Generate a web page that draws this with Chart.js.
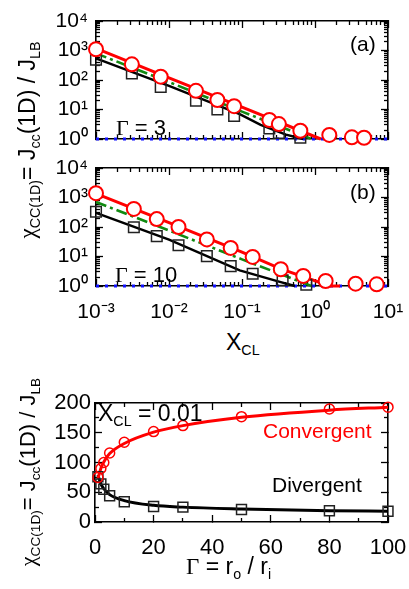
<!DOCTYPE html>
<html>
<head>
<meta charset="utf-8">
<script src="https://cdn.jsdelivr.net/npm/chart.js@4.4.0/dist/chart.umd.min.js"></script>
<style>
  html, body { margin: 0; padding: 0; background: #fff; }
  body { width: 409px; height: 589px; position: relative; overflow: hidden;
         font-family: "Liberation Sans", Arial, sans-serif; }
  .panel { position: absolute; left: 0; }
  .txt { position: absolute; white-space: nowrap; line-height: 1; color: #000; }
  .g { font-family: "Liberation Serif", "Times New Roman", serif; }
  .sub { font-size: 0.62em; position: relative; top: 0.35em; }
  .ytitle { position: absolute; white-space: nowrap; line-height: 1;
            transform: translate(-50%, -50%) rotate(-90deg); }
</style>
</head>
<body>
<canvas id="chartA" class="panel" width="409" height="150" style="top:0"></canvas>
<canvas id="chartB" class="panel" width="409" height="170" style="top:150px"></canvas>
<canvas id="chartC" class="panel" width="409" height="170" style="top:390px"></canvas>

<div class="ytitle" style="left:27px;top:140px;font-size:23px"><span class="g">χ</span><span class="sub">CC(1D)</span>= J<span class="sub">cc</span>(1D) / J<span class="sub">LB</span></div>
<div class="ytitle" style="left:28px;top:472px;font-size:22px"><span class="g">χ</span><span class="sub">CC(1D)</span>= J<span class="sub">cc</span>(1D) / J<span class="sub">LB</span></div>

<div class="txt" style="left:350px;top:33px;font-size:21px">(a)</div>
<div class="txt" style="left:350px;top:181px;font-size:21px">(b)</div>
<div class="txt" style="left:116px;top:117px;font-size:22px"><span class="g">Γ</span> = 3</div>
<div class="txt" style="left:115px;top:264px;font-size:22px"><span class="g">Γ</span> = 10</div>
<div class="txt" style="left:226px;top:331px;font-size:23px">X<span class="sub">CL</span></div>

<div class="txt" style="left:98px;top:402px;font-size:23px">X<span class="sub">CL</span> = 0.01</div>
<div class="txt" style="left:263px;top:420px;font-size:21px;color:#ff0000">Convergent</div>
<div class="txt" style="left:272px;top:474px;font-size:21px">Divergent</div>
<div class="txt" style="left:186px;top:555px;font-size:23px"><span class="g">Γ</span> = r<span class="sub">o</span> / r<span class="sub">i</span></div>

<script>
// --- ticks ---
const xDecades = [1e-3, 1e-2, 1e-1, 1, 10];
const xDecadeLabels = ['10⁻³', '10⁻²', '10⁻¹', '10⁰', '10¹'];
const yDecades = [1, 10, 100, 1000, 10000];
const yDecadeLabels = ['10⁰', '10¹', '10²', '10³', '10⁴'];
const gammaTicks = [0, 20, 40, 60, 80, 100];
const chiTicks = [0, 50, 100, 150, 200];

// --- panel (a), Gamma = 3 ---
const aCircX = [0.001, 0.0031, 0.0077, 0.0234, 0.046, 0.078, 0.237, 0.32, 0.63, 1.57, 3.2, 4.7];
const aCircY = [1100, 340, 130, 43, 21, 13, 4.4, 3.2, 1.9, 1.37, 1.14, 1.1];
const aSqX = [0.001, 0.0031, 0.0077, 0.0234, 0.046, 0.078, 0.237, 0.32, 0.63];
const aSqY = [490, 166, 58, 20, 10, 6.0, 2.3, 1.6, 1.1];
const aRedX = [0.001, 0.01, 0.1, 1.2];
const aRedY = [1180, 118, 12, 1];
const aGreenX = [0.001, 0.01, 0.1, 0.9];
const aGreenY = [800, 85, 8.5, 1];
const aBlackX = [0.001, 0.01, 0.093, 0.18, 0.4, 0.69];
const aBlackY = [545, 63, 7, 3.0, 1.4, 1];

// --- panel (b), Gamma = 10 ---
const bCircX = [0.001, 0.0033, 0.0068, 0.0135, 0.033, 0.07, 0.14, 0.34, 0.69, 1.4, 3.6, 7.0];
const bCircY = [1400, 410, 185, 100, 38, 19.5, 9.7, 3.7, 2.2, 1.48, 1.2, 1.14];
const bSqX = [0.001, 0.0033, 0.0068, 0.0135, 0.033, 0.07, 0.14, 0.36, 0.76];
const bSqY = [330, 98, 49, 24, 10.3, 4.7, 2.6, 1.56, 1.1];
const bRedX = [0.001, 0.01, 0.1, 0.34, 1.6, 2.2];
const bRedY = [1350, 140, 14, 3.8, 1, 1];
const bGreenX = [0.001, 0.01, 0.1, 0.9];
const bGreenY = [700, 76, 8, 1];
const bBlackX = [0.001, 0.01, 0.093, 0.33, 0.53];
const bBlackY = [300, 37, 3.4, 1.37, 1];

const limitX = [0.001, 10];
const limitY = [1, 1];

// --- panel (c), X_CL = 0.01 ---
const gammaVals = [1, 2, 3, 5, 10, 20, 30, 50, 80, 100];
const convPts = [75, 90, 100, 116, 134, 152, 162, 177, 190, 193];
const divPts = [76, 64, 55, 44, 34, 26, 25, 21, 19, 18];
const convFit = [73, 90, 101, 115, 132, 151, 162, 176, 188, 193];
const divFit = [79, 64, 56, 46, 36, 28, 25, 22, 19, 18];

const pts = (xs, ys) => xs.map((x, i) => ({ x, y: ys[i] }));

const RED = '#ff0000';
const GREEN = '#118a11';
const BLUE = '#1010ff';
const FAMILY = '"Liberation Sans", Arial, sans-serif';

// minor tick positions between the major ones
const logMinors = majors => majors.slice(0, -1).flatMap(d => [2, 3, 4, 5, 6, 7, 8, 9].map(m => d * m));
const midMinors = majors => majors.slice(0, -1).map((v, i) => (v + majors[i + 1]) / 2);

// fixed axis boxes so the plot areas land where the reference has them
const fixBox = size => s => {
  if (s.isHorizontal()) s.height = size; else s.width = size;
  s.paddingTop = 0; s.paddingBottom = 0; s.paddingLeft = 0; s.paddingRight = 0;
};

// an axis that only draws inward tick marks (and optionally the frame line)
const tickAxis = (type, position, min, max, values, len, frame) => ({
  type, position, min, max, weight: -1,
  afterBuildTicks: s => { s.ticks = values.map(v => ({ value: v })); },
  afterFit: fixBox(0),
  grid: { display: true, drawOnChartArea: false, drawTicks: true, tickLength: -len,
          tickColor: '#000', tickWidth: 1.3 },
  border: { display: frame, color: '#000', width: 1.6 },
  ticks: { display: false }
});

// the labelled axis: major inward ticks, frame line, labels
const labelAxis = (type, position, min, max, values, labels, size, pad, fontSize, show) => ({
  type, position, min, max, weight: 0,
  afterBuildTicks: s => { s.ticks = values.map(v => ({ value: v })); },
  afterFit: fixBox(size),
  grid: { display: true, drawOnChartArea: false, drawTicks: true, tickLength: -7,
          tickColor: '#000', tickWidth: 1.3 },
  border: { display: true, color: '#000', width: 1.6 },
  ticks: { display: show, autoSkip: false, maxRotation: 0, padding: pad + 7, color: '#000',
           font: { family: FAMILY, size: fontSize },
           callback: (v, i) => labels[i] }
});

const axesFor = (type, xMin, xMax, xMaj, xMin2, xLab, yMin, yMax, yMaj, yMin2, yLab, xSize, ySize, xPad, yPad, fs, showX) => ({
  x: labelAxis(type, 'bottom', xMin, xMax, xMaj, xLab, xSize, xPad, fs, showX),
  y: labelAxis(type, 'left', yMin, yMax, yMaj, yLab, ySize, yPad, fs, true),
  xMinor: tickAxis(type, 'bottom', xMin, xMax, xMin2, 4, false),
  yMinor: tickAxis(type, 'left', yMin, yMax, yMin2, 4, false),
  xTop: tickAxis(type, 'top', xMin, xMax, xMaj, 7, true),
  xTopMinor: tickAxis(type, 'top', xMin, xMax, xMin2, 4, false),
  yRight: tickAxis(type, 'right', yMin, yMax, yMaj, 7, true),
  yRightMinor: tickAxis(type, 'right', yMin, yMax, yMin2, 4, false)
});

const logPanel = (id, d, showX, pad, xHeight) => new Chart(document.getElementById(id), {
  type: 'scatter',
  data: {
    datasets: [
      { data: pts(d.circX, d.circY), pointStyle: 'circle', pointRadius: 7, borderWidth: 2,
        borderColor: RED, backgroundColor: '#fff' },
      { data: pts(d.sqX, d.sqY), pointStyle: 'rect', pointRadius: 7.5, borderWidth: 1.5,
        borderColor: '#222', backgroundColor: 'rgba(255,255,255,0)' },
      { data: pts(d.redX, d.redY), showLine: true, pointRadius: 0, borderColor: RED, borderWidth: 3 },
      { data: pts(d.greenX, d.greenY), showLine: true, pointRadius: 0, borderColor: GREEN,
        borderWidth: 2.6, borderDash: [11, 4, 3, 4] },
      { data: pts(d.blackX, d.blackY), showLine: true, pointRadius: 0, borderColor: '#000', borderWidth: 2.4 },
      { data: pts(limitX, limitY), showLine: true, pointRadius: 0, borderColor: BLUE,
        borderWidth: 3, borderDash: [3, 6] }
    ]
  },
  options: {
    responsive: false,
    animation: false,
    clip: false,
    layout: { autoPadding: false, padding: { left: 0, top: pad, right: 21, bottom: 0 } },
    plugins: { legend: { display: false }, tooltip: { enabled: false } },
    scales: axesFor('logarithmic',
      1e-3, 10, xDecades, logMinors(xDecades), xDecadeLabels,
      1, 10000, yDecades, logMinors(yDecades), yDecadeLabels,
      xHeight, 96, 14, 8, 21, showX)
  }
});

logPanel('chartA', {
  circX: aCircX, circY: aCircY, sqX: aSqX, sqY: aSqY,
  redX: aRedX, redY: aRedY, greenX: aGreenX, greenY: aGreenY, blackX: aBlackX, blackY: aBlackY
}, false, 21, 11);

logPanel('chartB', {
  circX: bCircX, circY: bCircY, sqX: bSqX, sqY: bSqY,
  redX: bRedX, redY: bRedY, greenX: bGreenX, greenY: bGreenY, blackX: bBlackX, blackY: bBlackY
}, true, 18, 34);

new Chart(document.getElementById('chartC'), {
  type: 'scatter',
  data: {
    datasets: [
      { data: pts(gammaVals, convPts), pointStyle: 'circle', pointRadius: 5, borderWidth: 1.5,
        borderColor: RED, backgroundColor: 'rgba(255,255,255,0)' },
      { data: pts(gammaVals, divPts), pointStyle: 'rect', pointRadius: 7, borderWidth: 1.5,
        borderColor: '#222', backgroundColor: 'rgba(255,255,255,0)' },
      { data: pts(gammaVals, convFit), showLine: true, pointRadius: 0, borderColor: RED,
        borderWidth: 3, cubicInterpolationMode: 'monotone' },
      { data: pts(gammaVals, divFit), showLine: true, pointRadius: 0, borderColor: '#000',
        borderWidth: 3, cubicInterpolationMode: 'monotone' }
    ]
  },
  options: {
    responsive: false,
    animation: false,
    clip: false,
    layout: { autoPadding: false, padding: { left: 0, top: 13, right: 21, bottom: 0 } },
    plugins: { legend: { display: false }, tooltip: { enabled: false } },
    scales: axesFor('linear',
      0, 100, gammaTicks, midMinors(gammaTicks), gammaTicks.map(String),
      0, 200, chiTicks, midMinors(chiTicks), chiTicks.map(String),
      38, 95, 13, 4, 22, true)
  }
});
</script>
</body>
</html>
